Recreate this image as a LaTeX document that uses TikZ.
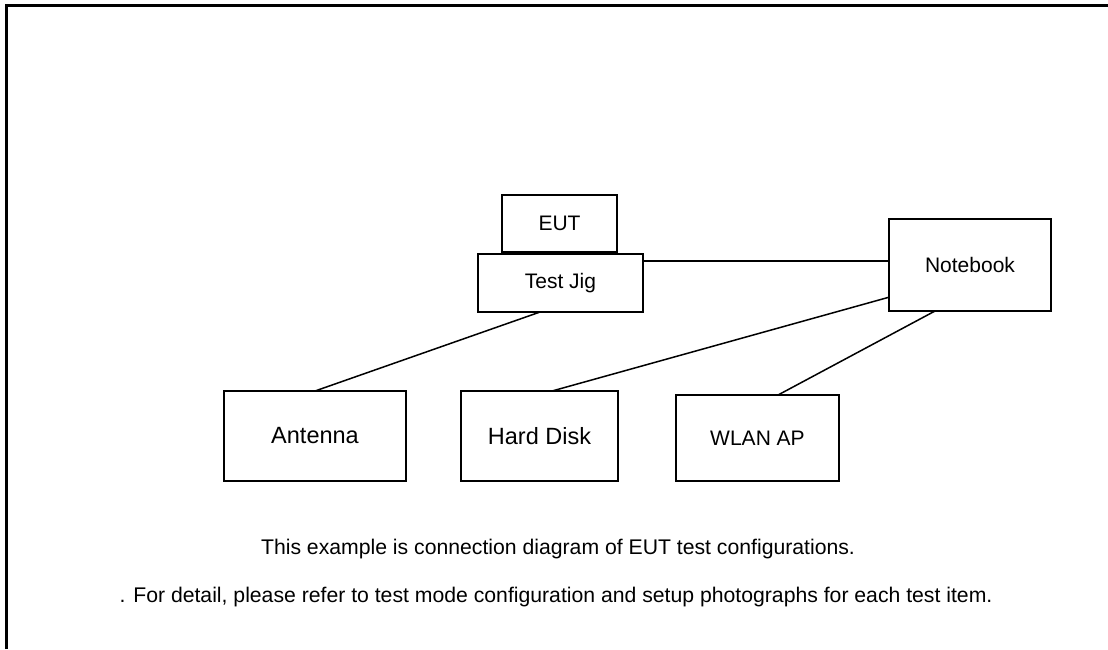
\documentclass[tikz,border=0pt]{standalone}
\usepackage{fontspec}
\setmainfont{Liberation Sans}
\usepackage{tikz}
\usetikzlibrary{positioning, calc}

\begin{document}
\begin{tikzpicture}[
    x=1pt, y=-1pt,
    box/.style={draw, line width=1.1pt, inner sep=0pt, outer sep=0pt,
                anchor=north west, align=center,
                font=\fontsize{21}{25}\selectfont},
    bigbox/.style={box, font=\fontsize{23.5}{28}\selectfont},
    link/.style={line width=1.5pt},
    note/.style={font=\fontsize{21.2}{25}\selectfont}
  ]
  \useasboundingbox (0,0) rectangle (1108,649);
  % open frame round the sheet
  \draw[line width=3pt] (6.5,649) -- (6.5,5.5) -- (1108,5.5);

  \node[box, minimum width=115pt, minimum height=57pt] (eut) at (502,195) {EUT};
  \node[box, minimum width=165pt, minimum height=58pt, anchor=north,
        below=2pt of eut, xshift=1pt] (jig) {Test Jig};
  \node[box, minimum width=162pt, minimum height=92pt] (nb) at (889,219) {Notebook};
  \node[bigbox, minimum width=182pt, minimum height=90pt] (ant) at (224,391) {Antenna};
  \node[bigbox, minimum width=157pt, minimum height=90pt] (hd) at (461,391) {Hard Disk};
  \node[box, minimum width=163pt, minimum height=86pt] (wlan) at (676,395) {WLAN AP};

  \coordinate (jigr) at ($(jig.north east)!0.12!(jig.south east)$);
  \draw[link] (jigr) -- (jigr -| nb.west);
  \draw[link] ($(jig.south west)!0.376!(jig.south east)$) -- (ant.north);
  \draw[link] ($(nb.north west)!0.85!(nb.south west)$) -- ($(hd.north west)!0.58!(hd.north east)$);
  \draw[link] ($(nb.south west)!0.284!(nb.south east)$) -- ($(wlan.north west)!0.626!(wlan.north east)$);

  \node[note] (cap1) at (558,549) {This example is connection diagram of EUT test configurations.};
  \node[note] (cap2) at (556,597) {. For detail, please refer to test mode configuration and setup photographs for each test item.};
\end{tikzpicture}
\end{document}
